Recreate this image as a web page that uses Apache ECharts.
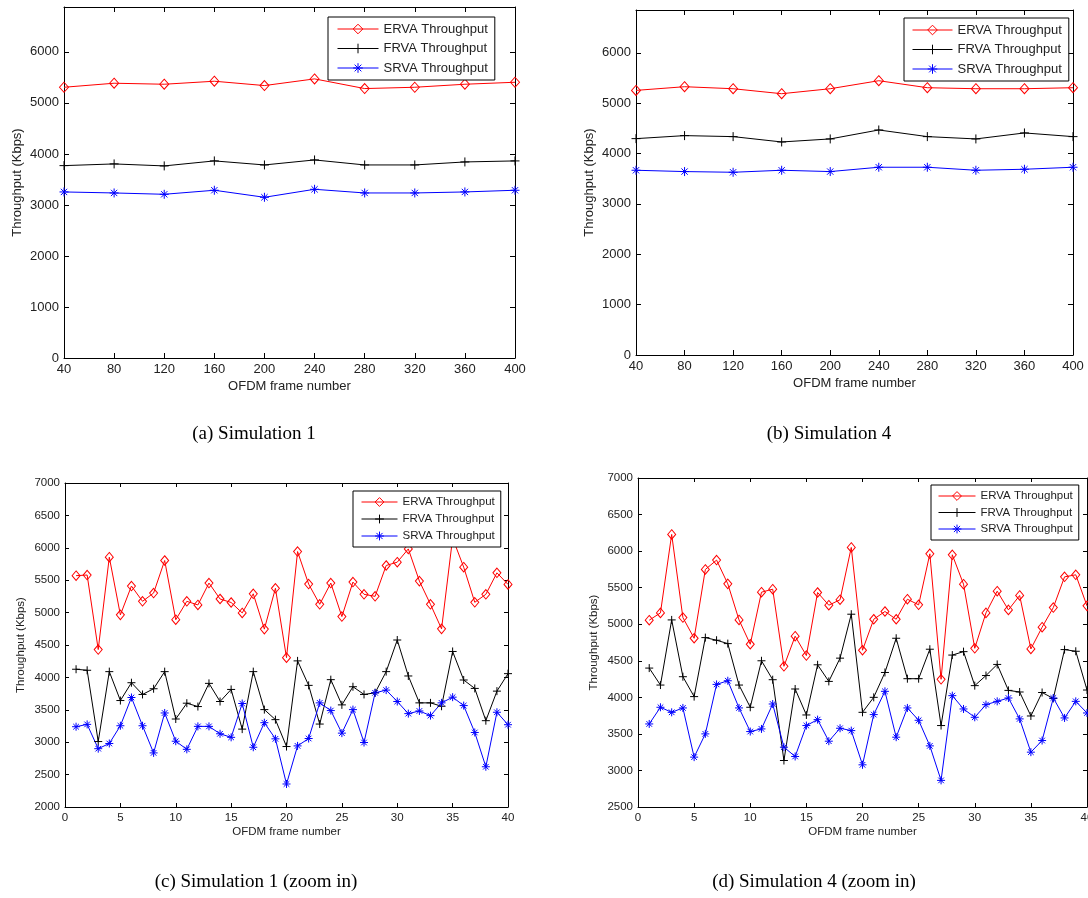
<!DOCTYPE html>
<html>
<head>
<meta charset="utf-8">
<title>ERVA / FRVA / SRVA throughput</title>
<script src="https://cdn.jsdelivr.net/npm/echarts@6/dist/echarts.min.js"></script>
<style>
  html, body { margin: 0; padding: 0; background: #fff; }
  #main { width: 1088px; height: 898px; }
</style>
</head>
<body>
<div id="main"></div>
<script>
// series names (same in every panel)
const seriesNames = ['ERVA Throughput', 'FRVA Throughput', 'SRVA Throughput'];

// x values
const frames = [40, 80, 120, 160, 200, 240, 280, 320, 360, 400];
const zoomFrames = [1, 2, 3, 4, 5, 6, 7, 8, 9, 10, 11, 12, 13, 14, 15, 16, 17, 18, 19, 20,
    21, 22, 23, 24, 25, 26, 27, 28, 29, 30, 31, 32, 33, 34, 35, 36, 37, 38, 39, 40];

// (a) Simulation 1
const sim1ERVA = [5307, 5386, 5366, 5425, 5340, 5471, 5281, 5307, 5366, 5405];
const sim1FRVA = [3771, 3804, 3765, 3863, 3784, 3882, 3784, 3784, 3843, 3863];
const sim1SRVA = [3255, 3235, 3209, 3288, 3150, 3307, 3235, 3235, 3255, 3288];

// (b) Simulation 4
const sim4ERVA = [5254, 5327, 5287, 5188, 5287, 5446, 5307, 5287, 5287, 5307];
const sim4FRVA = [4296, 4356, 4336, 4230, 4290, 4468, 4336, 4290, 4409, 4336];
const sim4SRVA = [3668, 3642, 3628, 3668, 3642, 3728, 3728, 3668, 3688, 3728];

// (c) Simulation 1, zoom in
const sim1ZoomERVA = [5570, 5580, 4430, 5855, 4965, 5410, 5174, 5302, 5804, 4890,
    5174, 5118, 5456, 5210, 5156, 4995, 5290, 4745, 5375, 4305,
    5942, 5440, 5128, 5456, 4939, 5471, 5282, 5251, 5727, 5778,
    5983, 5486, 5128, 4749, 6150, 5701, 5159, 5282, 5614, 5435];
const sim1ZoomFRVA = [4126, 4110, 3010, 4089, 3643, 3918, 3737, 3825, 4089, 3358,
    3602, 3550, 3908, 3628, 3814, 3202, 4089, 3503, 3348, 2933,
    4255, 3877, 3280, 3965, 3576, 3856, 3737, 3762, 4089, 4577,
    4022, 3607, 3607, 3555, 4400, 3960, 3830, 3332, 3788, 4058];
const sim1ZoomSRVA = [3239, 3275, 2900, 2980, 3254, 3690, 3254, 2835, 3451, 3015,
    2890, 3244, 3244, 3130, 3075, 3597, 2922, 3301, 3052, 2355,
    2943, 3057, 3607, 3488, 3140, 3503, 2995, 3762, 3804, 3628,
    3441, 3482, 3410, 3607, 3695, 3565, 3150, 2621, 3462, 3270];

// (d) Simulation 4, zoom in
const sim4ZoomERVA = [5055, 5155, 6228, 5091, 4808, 5749, 5877, 5552, 5059, 4726,
    5438, 5479, 4425, 4836, 4571, 5434, 5260, 5335, 6050, 4644,
    5068, 5174, 5068, 5342, 5265, 5963, 4247, 5950, 5548, 4671,
    5155, 5452, 5196, 5393, 4662, 4959, 5228, 5648, 5676, 5251];
const sim4ZoomFRVA = [4400, 4168, 5059, 4282, 4010, 4817, 4781, 4735, 4168, 3864,
    4500, 4241, 3136, 4114, 3759, 4445, 4218, 4536, 5137, 3795,
    4000, 4340, 4808, 4255, 4255, 4658, 3614, 4578, 4625, 4160,
    4298, 4450, 4095, 4073, 3745, 4066, 3985, 4653, 4630, 4100];
const sim4ZoomSRVA = [3636, 3864, 3795, 3855, 3182, 3500, 4177, 4227, 3855, 3532,
    3568, 3909, 3318, 3191, 3614, 3695, 3400, 3577, 3545, 3077,
    3764, 4082, 3455, 3855, 3686, 3336, 2864, 4023, 3841, 3727,
    3900, 3945, 3991, 3705, 3250, 3409, 3991, 3718, 3945, 3786];

const colors = ['#ff0000', '#000000', '#0000ff'];
const markers = [
    'path://M5,0L10,6L5,12L0,6Z',                                  // diamond
    'path://M5,0L5,10M0,5L10,5',                                   // plus
    'path://M5,0L5,10M0,5L10,5M1.5,1.5L8.5,8.5M8.5,1.5L1.5,8.5'    // asterisk
];
const fontFamily = '"Liberation Sans", Arial, Helvetica, sans-serif';

const panels = [
    {
        x: frames, ys: [sim1ERVA, sim1FRVA, sim1SRVA],
        grid: {left: 64, top: 7, width: 451, height: 351},
        xr: {min: 40, max: 400, interval: 40}, yr: {min: 0, max: 6880, interval: 1000},
        font: 13, tick: 5, nameGapX: 22, nameGapY: 40,
        sizes: [[9, 10], 9, 9],
        legend: {left: 328, top: 17, padding: [5.5, 7, 5.5, 9], itemWidth: 41, itemHeight: 12, itemGap: 6.5},
        rowHeight: 13
    },
    {
        x: frames, ys: [sim4ERVA, sim4FRVA, sim4SRVA],
        grid: {left: 636, top: 10, width: 437, height: 345},
        xr: {min: 40, max: 400, interval: 40}, yr: {min: 0, max: 6850, interval: 1000},
        font: 13, tick: 5, nameGapX: 22, nameGapY: 40,
        sizes: [[9, 10], 9, 9],
        legend: {left: 904, top: 18, padding: [5.5, 7, 5.5, 8], itemWidth: 40, itemHeight: 12, itemGap: 6.5},
        rowHeight: 13
    },
    {
        x: zoomFrames, ys: [sim1ZoomERVA, sim1ZoomFRVA, sim1ZoomSRVA],
        grid: {left: 65, top: 483, width: 443, height: 324},
        xr: {min: 0, max: 40, interval: 5}, yr: {min: 2000, max: 7000, interval: 500},
        font: 11.5, tick: 4, nameGapX: 19, nameGapY: 38,
        sizes: [[8, 9.5], 8, 8],
        legend: {left: 353, top: 491, padding: [5, 6, 5, 8], itemWidth: 36, itemHeight: 11, itemGap: 5},
        rowHeight: 12
    },
    {
        x: zoomFrames, ys: [sim4ZoomERVA, sim4ZoomFRVA, sim4ZoomSRVA],
        grid: {left: 638, top: 478, width: 449, height: 329},
        xr: {min: 0, max: 40, interval: 5}, yr: {min: 2500, max: 7000, interval: 500},
        font: 11.5, tick: 4, nameGapX: 19, nameGapY: 38,
        sizes: [[8, 9.5], 8, 8],
        legend: {left: 931, top: 485, padding: [5, 6, 5, 7], itemWidth: 37, itemHeight: 11, itemGap: 4.5},
        rowHeight: 12
    }
];

const captions = [
    {text: '(a) Simulation 1', x: 254, y: 434},
    {text: '(b) Simulation 4', x: 829, y: 434},
    {text: '(c) Simulation 1 (zoom in)', x: 256, y: 882},
    {text: '(d) Simulation 4 (zoom in)', x: 814, y: 882}
];

let option = {
    animation: false,
    backgroundColor: '#fff',
    grid: [], xAxis: [], yAxis: [], series: [], legend: [],
    graphic: captions.map(function (c) {
        return {
            type: 'text', x: c.x, y: c.y,
            style: {
                text: c.text, fill: '#000', align: 'center', verticalAlign: 'middle',
                font: '19px "Liberation Serif", "Times New Roman", serif'
            }
        };
    })
};

function axisBase(range, p, showLabel) {
    return {
        type: 'value', min: range.min, max: range.max, interval: range.interval,
        splitLine: {show: false},
        axisLine: {show: true, onZero: false, lineStyle: {color: '#000', width: 1}},
        axisTick: {show: true, inside: true, length: p.tick, lineStyle: {color: '#000'}},
        axisLabel: {
            show: showLabel, color: '#222', fontSize: p.font, fontFamily: fontFamily,
            margin: 5, showMaxLabel: range.max % range.interval === 0,
            formatter: function (v) { return String(v); }
        }
    };
}

panels.forEach(function (p, i) {
    option.grid.push(Object.assign({containLabel: false, outerBoundsMode: 'none'}, p.grid));

    let xb = axisBase(p.xr, p, true);
    xb.gridIndex = i; xb.position = 'bottom';
    xb.name = 'OFDM frame number'; xb.nameLocation = 'middle'; xb.nameGap = p.nameGapX;
    xb.nameTextStyle = {color: '#222', fontSize: p.font, fontFamily: fontFamily};
    let xt = axisBase(p.xr, p, false);
    xt.gridIndex = i; xt.position = 'top';
    option.xAxis.push(xb, xt);

    let yl = axisBase(p.yr, p, true);
    yl.gridIndex = i; yl.position = 'left';
    yl.name = 'Throughput (Kbps)'; yl.nameLocation = 'middle'; yl.nameGap = p.nameGapY;
    yl.nameTextStyle = {color: '#222', fontSize: p.font, fontFamily: fontFamily};
    let yr = axisBase(p.yr, p, false);
    yr.gridIndex = i; yr.position = 'right';
    option.yAxis.push(yl, yr);

    p.ys.forEach(function (vals, k) {
        option.series.push({
            name: seriesNames[k],
            type: 'line',
            xAxisIndex: 2 * i, yAxisIndex: 2 * i,
            data: p.x.map(function (fx, j) { return [fx, vals[j]]; }),
            symbol: markers[k],
            symbolSize: p.sizes[k],
            showAllSymbol: true,
            clip: true,
            lineStyle: {color: colors[k], width: 1},
            itemStyle: {color: 'rgba(0,0,0,0)', borderColor: colors[k], borderWidth: 1},
            emphasis: {disabled: true}
        });
    });

    option.legend.push(Object.assign({
        orient: 'vertical',
        data: seriesNames,
        backgroundColor: '#fff',
        borderColor: '#000',
        borderWidth: 1,
        selectedMode: false,
        lineStyle: {width: 1},
        itemStyle: {borderWidth: 1},
        textStyle: {color: '#222', fontSize: p.font, fontFamily: fontFamily, lineHeight: p.rowHeight}
    }, p.legend));
});

const chart = echarts.init(document.getElementById('main'));
chart.setOption(option);
</script>
</body>
</html>
